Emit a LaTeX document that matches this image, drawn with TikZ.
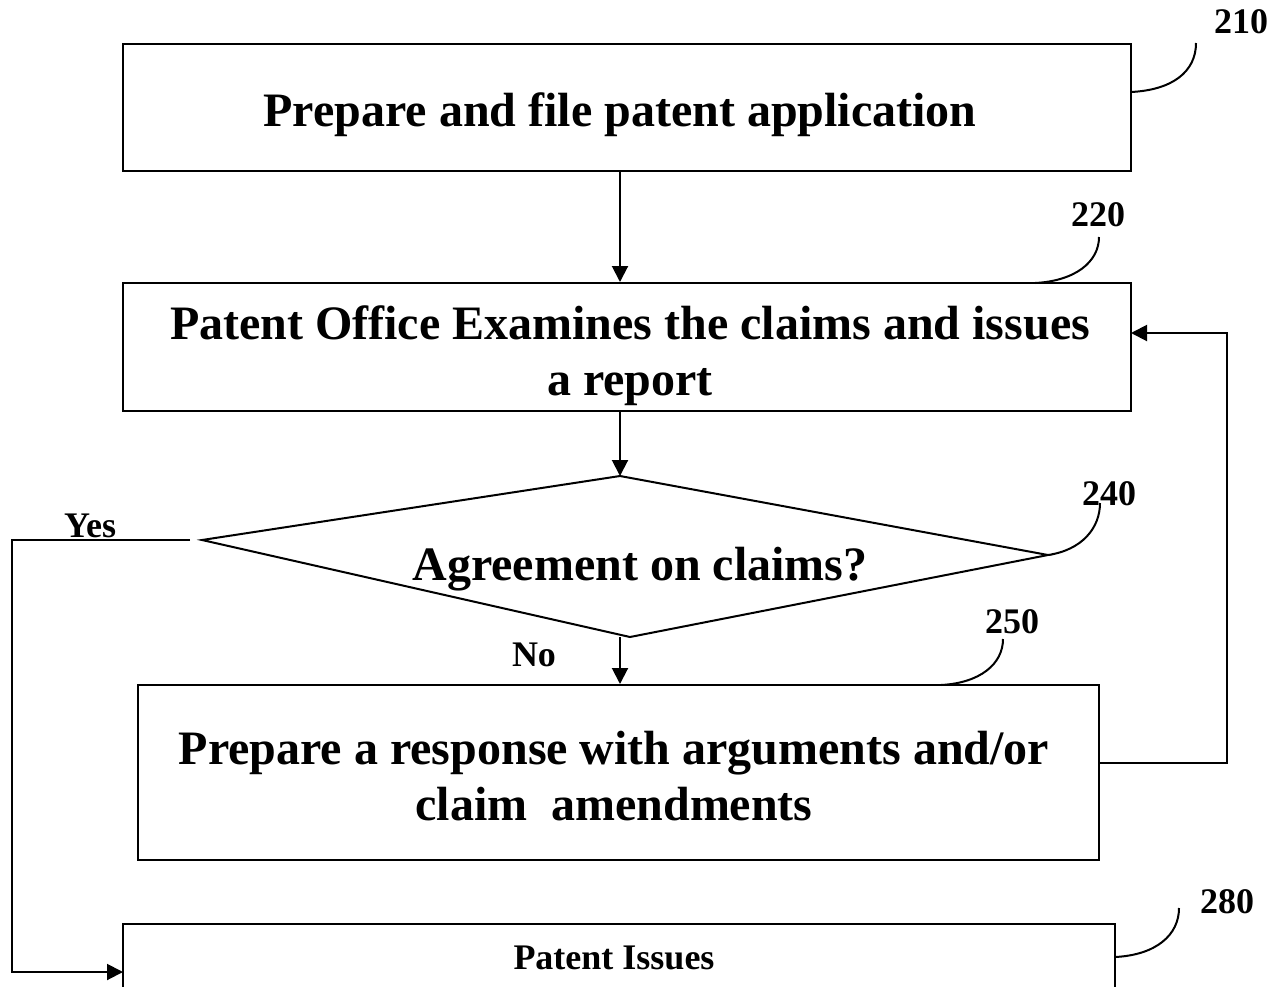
\documentclass[tikz,border=0pt]{standalone}
\usepackage{fontspec}
\setmainfont{Liberation Serif}
\usetikzlibrary{arrows.meta,calc}
\begin{document}
\begin{tikzpicture}[x=1pt,y=-1pt,
  every node/.style={font=\fontsize{48}{56}\selectfont\bfseries,inner sep=0pt},
  box/.style={draw,line width=2pt,inner sep=0pt},
  txt/.style={align=center},
  lbl/.style={font=\fontsize{36}{40}\selectfont\bfseries,inner sep=0pt},
  small/.style={font=\fontsize{36}{40}\selectfont\bfseries,inner sep=0pt},
  ln/.style={line width=2pt},
  arr/.style={line width=2pt,-{Triangle[length=16pt,width=16pt]}},
  lead/.style={line width=2pt}]
\clip (0,0) rectangle (1275,986);
% boxes
\node[box,minimum width=1008pt,minimum height=127pt] (b210) at (627,107.5) {};
\node[txt] (t210) at (620,115) {Prepare and file patent application};
\node[box,minimum width=1008pt,minimum height=128pt] (b220) at (627,347) {};
\node[txt] (t220) at (630,356) {Patent Office Examines the claims and issues\\a report};
\node[box,minimum width=961pt,minimum height=175pt] (b250) at (618.5,772.5) {};
\node[txt] (t250) at (614,776) {Prepare a response with arguments and/or\\claim\ \ amendments};
\node[box,minimum width=992pt,minimum height=76pt] (b280) at (619,962) {};
\node[small] (t280) at (614,958) {Patent Issues};
% diamond
\coordinate (dt) at (620,476);
\coordinate (dr) at (1048,555);
\coordinate (db) at (630,637);
\coordinate (dl) at (190,540);
\draw[ln] (dt) -- (dr) -- (db) -- (202,540) -- cycle;
\node (dtext) at (640,569) {Agreement on claims?};
% connectors
\draw[arr] (b210.south -| dt) -- (b220.north -| dt);
\draw[arr] (b220.south -| dt) -- (dt);
\coordinate (nostart) at (620,637);
\draw[arr] (nostart) -- (nostart |- b250.north);
\coordinate (yesend) at (123,972);
\draw[arr] (dl) -- (12,540) |- (yesend);
\coordinate (fbstart) at (1099,763);
\coordinate (fbend) at (1131,333);
\draw[arr] (fbstart) -- (1227,763) |- (fbend);
% labels
\node[lbl] (l210) at (1241,22) {210};
\node[lbl] (l220) at (1098,215) {220};
\node[lbl] (l240) at (1109,494) {240};
\node[lbl] (l250) at (1012,622) {250};
\node[lbl] (l280) at (1227,902) {280};
\node[lbl] (yes) at (90,526) {Yes};
\node[lbl] (no) at (534,655) {No};
% leader curves
\coordinate (c210a) at (1131,92); \coordinate (c210b) at (1196,43);
\draw[lead] (c210a) .. controls (1172,90) and (1196,72) .. (c210b);
\coordinate (c220a) at (1035,283); \coordinate (c220b) at (1099,237);
\draw[lead] (c220a) .. controls (1075,281) and (1099,262) .. (c220b);
\coordinate (c240b) at (1100,503);
\draw[lead] (dr) .. controls (1082,550) and (1100,528) .. (c240b);
\coordinate (c250a) at (941,685); \coordinate (c250b) at (1003,639);
\draw[lead] (c250a) .. controls (980,683) and (1003,664) .. (c250b);
\coordinate (c280a) at (1115,957); \coordinate (c280b) at (1179,908);
\draw[lead] (c280a) .. controls (1156,955) and (1179,935) .. (c280b);
\end{tikzpicture}
\end{document}
